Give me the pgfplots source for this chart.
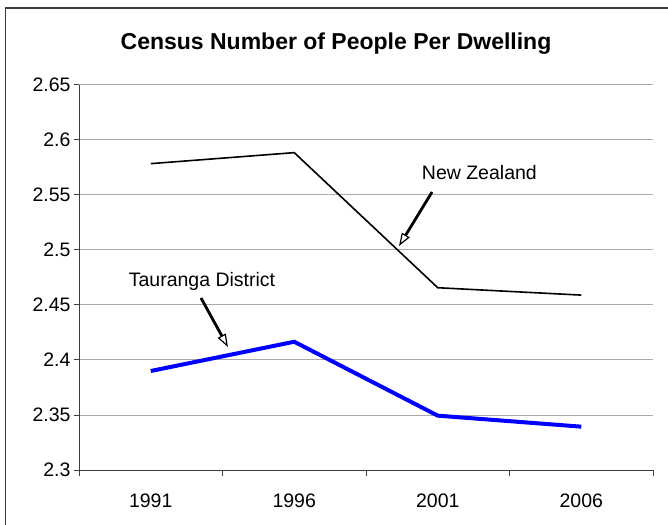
\documentclass[border=0pt]{standalone}
\usepackage{fontspec}
\setmainfont{Liberation Sans}
\usepackage{pgfplots}
\pgfplotsset{compat=1.18}
\usetikzlibrary{arrows.meta}
\definecolor{gridgray}{RGB}{170,170,170}
\definecolor{axisgray}{RGB}{60,60,60}
\begin{document}
\begin{tikzpicture}[x=1pt,y=1pt]
\useasboundingbox (0,0) rectangle (668,524);
\draw[axisgray, line width=1.5pt] (5.5,-5) -- (5.5,516) -- (675,516);
\node[anchor=base, font=\fontsize{23}{27}\selectfont\bfseries] at (336,474.5) {Census Number of People Per Dwelling};
\begin{axis}[
  at={(79pt,54pt)}, anchor=south west,
  scale only axis, width=574pt, height=385pt,
  xmin=-0.5, xmax=3.5, ymin=2.3, ymax=2.65,
  axis x line*=bottom, axis y line*=left,
  axis line style={axisgray, line width=1pt},
  tick align=outside,
  xtick={0,1,2,3}, xticklabels={1991,1996,2001,2006},
  minor xtick={-0.5,0.5,1.5,2.5,3.5},
  major x tick style={draw=none},
  minor x tick style={axisgray, line width=1pt},
  minor tick length=6pt,
  major tick length=5pt,
  ytick={2.3,2.35,2.4,2.45,2.5,2.55,2.6,2.65},
  yticklabels={2.3,2.35,2.4,2.45,2.5,2.55,2.6,2.65},
  y tick style={axisgray, line width=1pt},
  ymajorgrids, grid style={gridgray, line width=1pt},
  ticklabel style={font=\fontsize{19.5}{22}\selectfont},
  xticklabel style={yshift=-15pt},
  clip=false,
]
\addplot[black, line width=1.6pt] coordinates {(0,2.5785) (1,2.5885) (2,2.4657) (3,2.459)};
\addplot[blue, line width=4pt] coordinates {(0,2.390) (1,2.4166) (2,2.3494) (3,2.3394)};
\node[font=\fontsize{19.5}{22}\selectfont] at (axis cs:2.29,2.57) {New Zealand};
\node[font=\fontsize{19.5}{22}\selectfont] at (axis cs:0.357,2.4712) {Tauranga District};
\draw[black, line width=2.8pt, -{Triangle[open, length=13pt, width=9pt, line width=1.2pt]}] (axis cs:1.96,2.5527) -- (axis cs:1.73,2.5036);
\draw[black, line width=2.8pt, -{Triangle[open, length=13pt, width=9pt, line width=1.2pt]}] (axis cs:0.350,2.4564) -- (axis cs:0.538,2.4118);
\end{axis}
\end{tikzpicture}
\end{document}
